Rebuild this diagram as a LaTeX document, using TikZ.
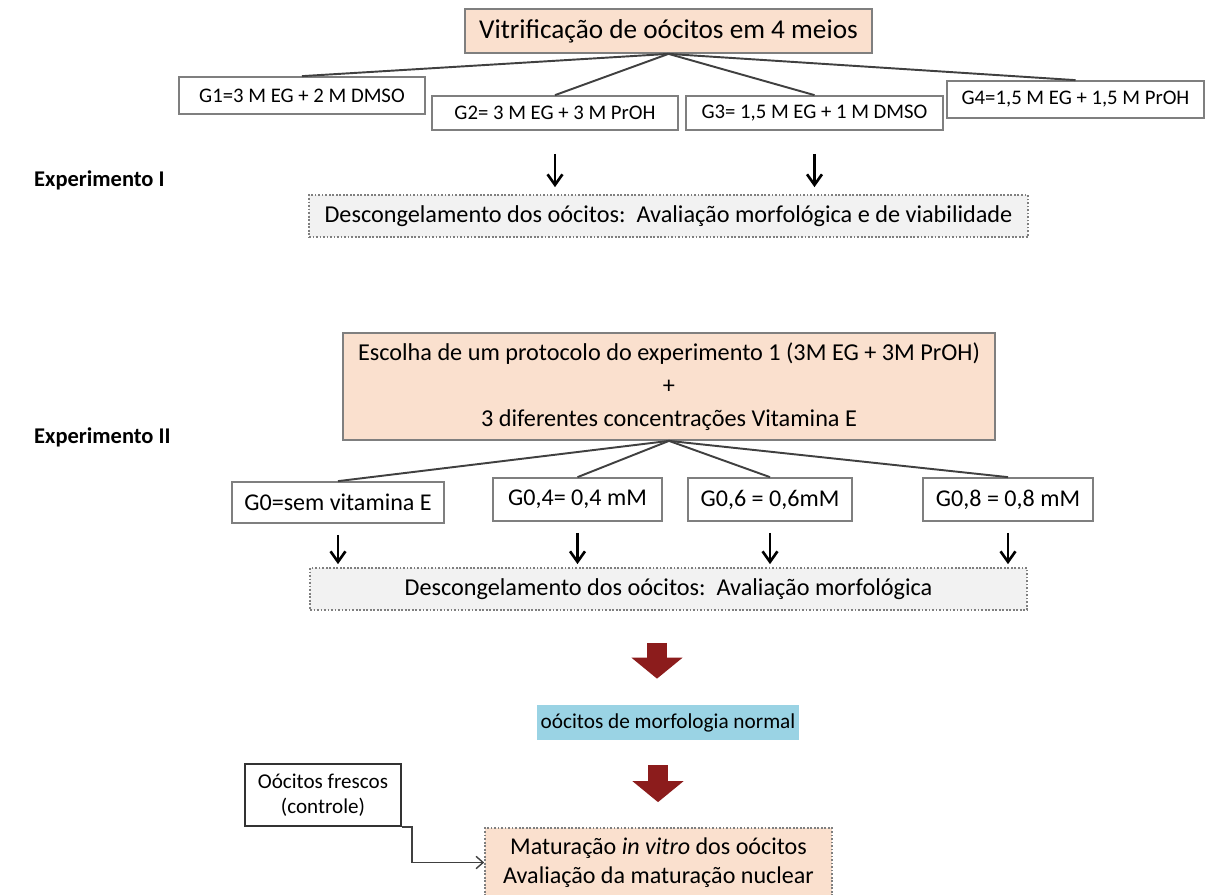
\documentclass[tikz,border=0pt]{standalone}
\usepackage{fontspec}
\setmainfont{Carlito}
\usetikzlibrary{arrows.meta}
\definecolor{peach}{HTML}{FAE0CE}
\definecolor{boxgray}{HTML}{F2F2F2}
\definecolor{aqua}{HTML}{9AD3E4}
\definecolor{darkred}{HTML}{8C1C1C}
\definecolor{edge}{HTML}{7F7F7F}
\begin{document}
\begin{tikzpicture}[x=0.02cm,y=-0.02cm,
        box/.style={draw=edge,line width=1pt,inner sep=0pt,align=center},
        grp/.style={box,fill=white,font=\fontsize{11.8}{13}\selectfont},
        grpb/.style={grp,font=\fontsize{13.7}{15}\selectfont},
        desc/.style={box,densely dotted,fill=boxgray,font=\fontsize{13.8}{15}\selectfont},
        fan/.style={draw=black!75,line width=1.1pt},
        blk/.style={line width=1.5pt,-{Straight Barb[length=6pt,width=8.5pt]}},
        redarr/.style={draw=darkred,line width=0.4cm,-{Triangle[width=1cm,length=0.42cm]}},
        lab/.style={font=\fontsize{12.8}{14}\selectfont\bfseries,anchor=west}]
    \useasboundingbox (0,0) rectangle (1206,894);
    % experimento I
    \node[box,fill=peach,minimum width=8.14cm,minimum height=0.88cm,font=\fontsize{15.5}{17}\selectfont]
        (vitri) at (668.5,31) {Vitrificação de oócitos em 4 meios};
    \node[grp,minimum width=4.92cm,minimum height=0.74cm] (g1) at (302,95.5) {G1=3 M EG + 2 M DMSO};
    \node[grp,minimum width=4.92cm,minimum height=0.68cm] (g2) at (555,113) {G2= 3 M EG + 3 M PrOH};
    \node[grp,minimum width=5.14cm,minimum height=0.68cm] (g3) at (814.5,113) {G3= 1,5 M EG + 1 M DMSO};
    \node[grp,minimum width=5.14cm,minimum height=0.74cm] (g4) at (1075.5,99.5) {G4=1,5 M EG + 1,5 M PrOH};
    \foreach \g in {g1,g2,g3,g4}
        \draw[fan] (vitri.south) -- (\g.north);
    \node[lab] (exp1) at (28,180) {Experimento I};
    \node[desc,minimum width=14.38cm,minimum height=0.84cm] (desc1) at (668.5,216)
        {Descongelamento dos oócitos:\ \ Avaliação morfológica e de viabilidade};
    \foreach \g in {g2,g3}
        \draw[blk,shorten <=0.46cm,shorten >=0.14cm] (\g.south) -- (\g.south |- desc1.north);
    % experimento II
    \node[box,fill=peach,minimum width=13.04cm,minimum height=2.14cm,font=\fontsize{13.8}{18.7}\selectfont]
        (escolha) at (669,386.5) {Escolha de um protocolo do experimento 1 (3M EG + 3M PrOH)\\+\\3 diferentes concentrações Vitamina E};
    \node[lab] (exp2) at (28,437) {Experimento II};
    \node[grpb,minimum width=4.24cm,minimum height=0.82cm] (g0) at (338,502.5) {G0=sem vitamina E};
    \node[grpb,minimum width=3.38cm,minimum height=0.86cm] (g04) at (577.5,499.5) {G0,4= 0,4 mM};
    \node[grpb,minimum width=3.28cm,minimum height=0.86cm] (g06) at (770,499.5) {G0,6 = 0,6mM};
    \node[grpb,minimum width=3.40cm,minimum height=0.86cm] (g08) at (1008,499.5) {G0,8 = 0,8 mM};
    \foreach \g in {g0,g04,g06,g08}
        \draw[fan] (escolha.south) -- (\g.north);
    \node[desc,minimum width=14.34cm,minimum height=0.84cm] (desc2) at (668.5,589)
        {Descongelamento dos oócitos:\ \ Avaliação morfológica};
    \foreach \g in {g0,g04,g06,g08}
        \draw[blk,shorten <=0.22cm,shorten >=0.06cm] (\g.south) -- (\g.south |- desc2.north);
    % oocitos normais e maturacao
    \node[fill=aqua,inner sep=0pt,minimum width=5.24cm,minimum height=0.7cm,font=\fontsize{12.1}{14}\selectfont]
        (normal) at (668,722.5) {oócitos de morfologia normal};
    \node[box,densely dotted,fill=peach,minimum width=6.94cm,minimum height=1.38cm,font=\fontsize{13.7}{16.5}\selectfont]
        (mat) at (658.5,862.5) {Maturação \textit{in vitro} dos oócitos\\Avaliação da maturação nuclear};
    \node[box,draw=black!80,fill=white,minimum width=3.12cm,minimum height=1.24cm,font=\fontsize{12}{14.2}\selectfont]
        (fresh) at (323,795) {Oócitos frescos\\(controle)};
    \draw[redarr,shorten <=0.64cm,shorten >=0.52cm] ([xshift=-0.23cm]desc2.south) -- ([xshift=-0.23cm]desc2.south |- normal.north);
    \draw[redarr,shorten <=0.5cm,shorten >=0.5cm] ([xshift=-0.2cm]normal.south) -- ([xshift=-0.2cm]normal.south |- mat.north);
    \draw[draw=black!75,line width=0.8pt,-{Straight Barb[length=4pt,width=7pt]}] (fresh.south east) -- ++(10,0) |- (mat.west);
\end{tikzpicture}
\end{document}
